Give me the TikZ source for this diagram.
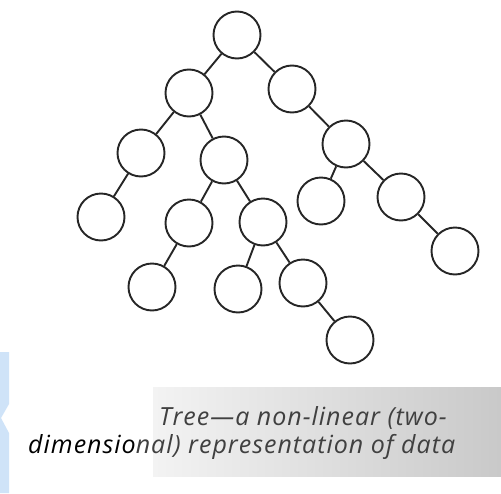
\documentclass[tikz,border=0pt]{standalone}
\usepackage{fontspec}
\setmainfont{Open Sans}
\newfontfamily\captionfont[LetterSpace=4]{Open Sans}
\usetikzlibrary{shadings}
\definecolor{inkdark}{HTML}{262626}
\definecolor{captiongray}{HTML}{404040}
\definecolor{bandright}{HTML}{C9C9C9}
\definecolor{bandleft}{HTML}{F3F3F3}
\definecolor{edgeblue}{HTML}{CFE3F8}
\tikzset{
  treenode/.style={circle, draw=inkdark, line width=1.9pt, minimum size=47pt, inner sep=0pt, fill=white},
  branch/.style={draw=inkdark, line width=1.9pt},
  captionline/.style={font=\captionfont\fontsize{25}{30}\selectfont\itshape, text=captiongray, inner sep=0pt}
}
\begin{document}
\begin{tikzpicture}[x=1pt, y=-1pt]
  \useasboundingbox (0,0) rectangle (501,493);
  \fill[white] (0,0) rectangle (501,493);

  % shaded band behind the caption
  \shade[left color=bandleft, right color=bandright] (153,387) rectangle (501,476);

  % blue page tab on the left edge
  \fill[edgeblue] (0,352) -- (9,352) -- (9,404) -- (1,418) -- (9,433) -- (9,493) -- (0,493) -- cycle;

  % the tree
  \node[treenode] (root)  at (237,35)  {};
  \node[treenode] (l)     at (189,93)  {};
  \node[treenode] (r)     at (292,89)  {};
  \node[treenode] (ll)    at (141,153) {};
  \node[treenode] (lr)    at (224,160) {};
  \node[treenode] (rr)    at (346,144) {};
  \node[treenode] (lll)   at (101,217) {};
  \node[treenode] (lrl)   at (189,223) {};
  \node[treenode] (lrr)   at (263,222) {};
  \node[treenode] (rrl)   at (321,201) {};
  \node[treenode] (rrr)   at (401,197) {};
  \node[treenode] (rrrr)  at (455,251) {};
  \node[treenode] (lrll)  at (152,287) {};
  \node[treenode] (lrrl)  at (238,289) {};
  \node[treenode] (lrrr)  at (303,283) {};
  \node[treenode] (lrrrr) at (350,340) {};

  \foreach \a/\b in {root/l, root/r, l/ll, l/lr, ll/lll, lr/lrl, lr/lrr,
                     lrl/lrll, lrr/lrrl, lrr/lrrr, lrrr/lrrrr,
                     r/rr, rr/rrl, rr/rrr, rrr/rrrr}
    \draw[branch] (\a) -- (\b);

  % caption
  \node[captionline, anchor=base east] (cap1) at (447,425) {Tree—a non-linear (two-};
  \node[captionline, anchor=base west] (cap2) at (28,453)
    {\textcolor{black}{dimensio}nal) representation of data};
\end{tikzpicture}
\end{document}
